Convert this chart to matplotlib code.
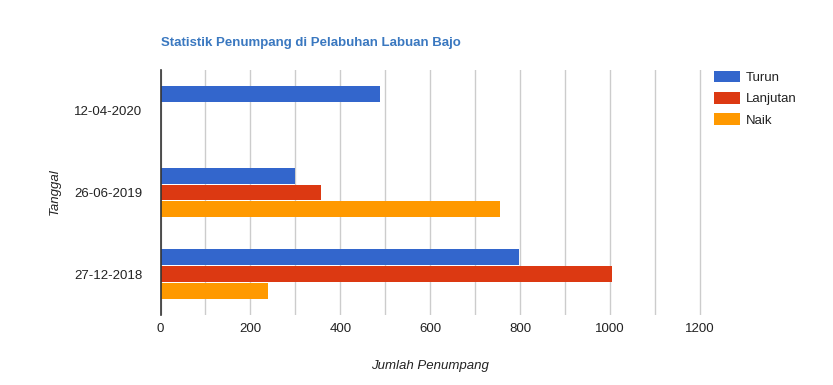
import matplotlib
matplotlib.use("Agg")
import matplotlib.pyplot as plt
import numpy as np

plt.rcParams['font.family'] = ['Liberation Sans', 'DejaVu Sans']

categories = ["12-04-2020", "26-06-2019", "27-12-2018"]
series_names = ["Turun", "Lanjutan", "Naik"]
turun = [488, 300, 797]
lanjutan = [0, 358, 1005]
naik = [0, 756, 239]
colors = ["#3366cc", "#dc3912", "#ff9900"]
xticks = [0, 200, 400, 600, 800, 1000, 1200]

W, H = 833, 385
fig = plt.figure(figsize=(W / 100, H / 100), dpi=100)
left, right, top, bottom = 160.5, 702, 70, 315
ax = fig.add_axes([left / W, (H - bottom) / H, (right - left) / W, (bottom - top) / H])

y = np.arange(len(categories))
offsets = [-0.207, 0.0, 0.207]
bar_h = 0.195
for vals, off, c, name in zip([turun, lanjutan, naik], offsets, colors, series_names):
    ax.barh(y + off, vals, height=bar_h, color=c, label=name, zorder=3)

ax.set_xlim(0, 1200 * (right - left) / (700 - left))
ax.set_ylim(len(categories) - 0.5, -0.5)
ax.set_xticks(xticks)
ax.set_xticks(np.arange(100, 1200, 200), minor=True)
ax.set_xticklabels([str(v) for v in xticks])
ax.set_yticks(y)
ax.set_yticklabels(categories)
ax.tick_params(axis='both', which='both', length=0, labelsize=9.5, colors='#222222')
ax.tick_params(axis='x', pad=6)
ax.tick_params(axis='y', pad=13)
ax.grid(axis='x', which='both', color='#cccccc', linewidth=1, zorder=0)
for s in ['top', 'right', 'bottom']:
    ax.spines[s].set_visible(False)
ax.spines['left'].set_color('#333333')
ax.spines['left'].set_linewidth(1.2)
ax.spines['left'].set_zorder(4)

fig.text(161 / W, 1 - 43 / H, "Statistik Penumpang di Pelabuhan Labuan Bajo",
         fontsize=9.5, fontweight='bold', color='#3a78c0', ha='left', va='center')
fig.text(430 / W, 1 - 366 / H, "Jumlah Penumpang", fontsize=9.5, style='italic',
         color='#222222', ha='center', va='center')
fig.text(55 / W, 1 - 192 / H, "Tanggal", fontsize=9.5, style='italic',
         color='#222222', ha='center', va='center', rotation=90)

leg = ax.legend(loc='upper left', bbox_to_anchor=(711 / W, 1 - 68 / H),
                bbox_transform=fig.transFigure, frameon=False, fontsize=9.5,
                handlelength=2.0, handleheight=1.0, handletextpad=0.45,
                labelspacing=0.6, borderaxespad=0, borderpad=0.2)
for t in leg.get_texts():
    t.set_color('#222222')

fig.savefig("out.png", dpi=100, facecolor='white')
